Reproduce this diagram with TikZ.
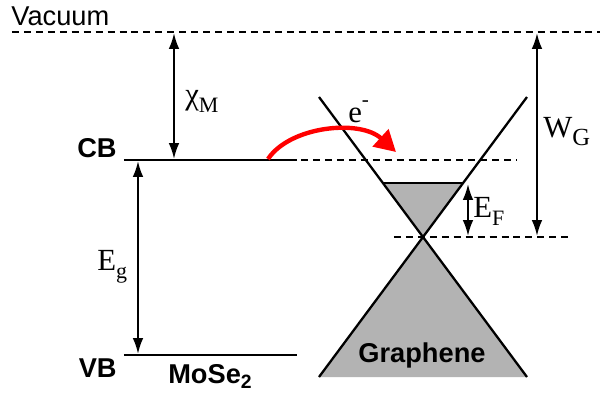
\documentclass[tikz,border=0pt]{standalone}
\usepackage{fontspec}
\setmainfont{Liberation Serif}
\setsansfont{Liberation Sans}
\usepackage{xcolor}
\usetikzlibrary{arrows.meta, positioning}
\definecolor{conegray}{HTML}{B3B3B3}
\newcommand{\lowidx}[1]{\raisebox{-0.28em}{\fontsize{12.5}{14}\selectfont #1}}

\begin{document}
\begin{tikzpicture}[
    x=0.02cm, y=-0.02cm,
    level/.style={line width=1.3pt},
    dashlevel/.style={line width=1.3pt, dash pattern=on 4pt off 2.8pt},
    gap/.style={{Latex[length=9pt,width=6pt]}-{Latex[length=9pt,width=6pt]}, line width=1.2pt},
    band/.style={font=\sffamily\bfseries\fontsize{15.5}{18}\selectfont, inner sep=0pt},
    sym/.style={font=\fontsize{17.5}{20}\selectfont, inner sep=0pt},
    hop/.style={red, line width=2.5pt, -{Triangle[length=12pt,width=13pt]}},
  ]
    \useasboundingbox (0,0) rectangle (600,396);

    % energy levels
    \coordinate (vacL) at (12,32);   \coordinate (vacR) at (600,32);
    \coordinate (cbL) at (124,160);  \coordinate (cbR) at (297,160);
    \coordinate (vbL) at (124,355);  \coordinate (vbR) at (297,355);
    \coordinate (cbext) at (517,160);
    \coordinate (dirac) at (423,237);
    \coordinate (dpL) at (394,237);  \coordinate (dpR) at (570,237);

    % Dirac cone
    \coordinate (upL) at (319,97);   \coordinate (upR) at (527,97);
    \coordinate (loL) at (319,377);  \coordinate (loR) at (527,377);
    \coordinate (fermiL) at (383,183); \coordinate (fermiR) at (463,183);

    \fill[conegray] (loL) -- (dirac) -- (loR) -- cycle;
    \fill[conegray] (fermiL) -- (fermiR) -- (dirac) -- cycle;
    \draw[level] (upL) -- (dirac) -- (loR);
    \draw[level] (upR) -- (dirac) -- (loL);
    \draw[level] (fermiL) -- (fermiR);

    \draw[dashlevel] (vacL) -- (vacR);
    \draw[level] (cbL) -- (cbR);
    \draw[dashlevel] (cbR) ++(4,0) -- (cbext);
    \draw[level] (vbL) -- (vbR);
    \draw[dashlevel] (dpL) -- (dpR);

    % gaps
    \coordinate (chiT) at (174,33);  \coordinate (chiB) at (174,159);
    \coordinate (egT) at (138,161);  \coordinate (egB) at (138,354);
    \coordinate (efT) at (468,184);  \coordinate (efB) at (468,236);
    \coordinate (wgT) at (537,33);   \coordinate (wgB) at (537,236);
    \draw[gap] (chiT) -- (chiB);
    \draw[gap] (egT) -- (egB);
    \draw[gap] (efT) -- (efB);
    \draw[gap] (wgT) -- (wgB);

    % electron transfer
    \coordinate (hopS) at (268,159);
    \coordinate (hopE) at (396,152);
    \draw[hop] (hopS) .. controls (290,126) and (360,119) .. (hopE);

    % labels
    \node[anchor=base west, inner sep=0pt, font=\sffamily\fontsize{15.5}{18}\selectfont] (vac) at (11,25) {Vacuum};
    \node[band, anchor=base east] (cb) at (117,157) {CB};
    \node[band, anchor=base east] (vb) at (117,377) {VB};
    \node[band, anchor=base] (mose) at (210,383) {MoSe\raisebox{-0.22em}{\fontsize{11}{12}\selectfont 2}};
    \node[band, anchor=base] (gr) at (422,362) {Graphene};
    \node[sym, anchor=base west] (chi) at (185,104) {χ\lowidx{M}};
    \node[sym, anchor=base west] (eg) at (97,270) {E\lowidx{g}};
    \node[sym, anchor=base west] (ef) at (473,217) {E\lowidx{F}};
    \node[sym, anchor=base west] (wg) at (543,137) {W\lowidx{\fontsize{14}{15}\selectfont G}};
    \node[sym, anchor=base west] (el) at (348,122) {e\raisebox{0.5em}{\fontsize{12}{12}\selectfont -}};
\end{tikzpicture}
\end{document}
